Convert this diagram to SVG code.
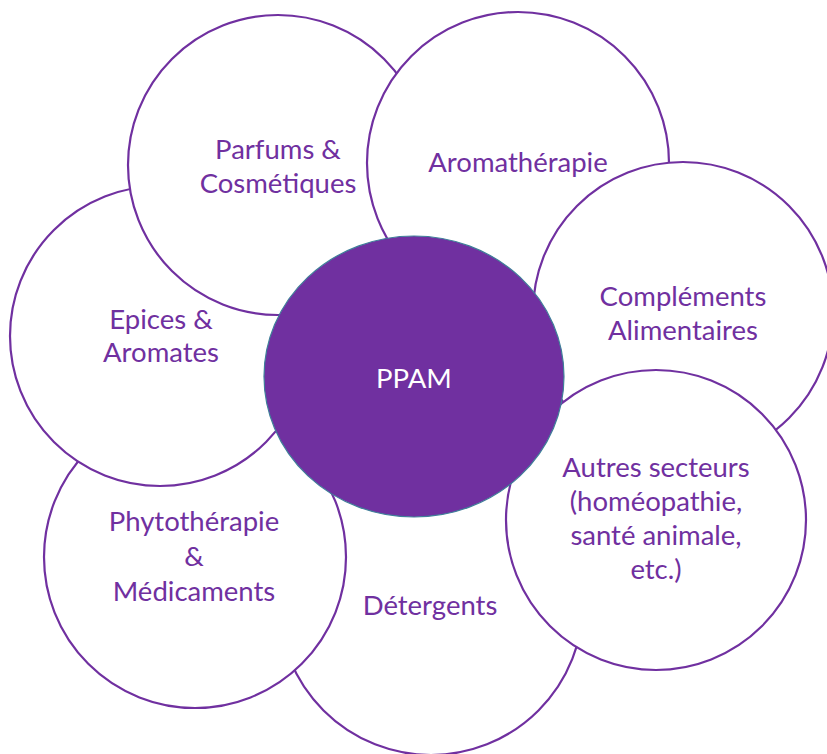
<svg xmlns="http://www.w3.org/2000/svg" width="827" height="754" viewBox="0 0 827 754">
<style>
.c{fill:#fff;stroke:#7030A0;stroke-width:2.2}
.t{font-family:Lato,"Open Sans",sans-serif;font-size:27.5px;fill:#7030A0;text-anchor:middle}
.w{font-family:Lato,"Open Sans",sans-serif;font-size:27.5px;fill:#fff;text-anchor:middle}
</style>
<rect width="827" height="754" fill="#fff"/>
<g id="detergents"><circle class="c" cx="431" cy="603" r="152"/><text class="t" x="430" y="615">Détergents</text></g>
<g id="phyto"><circle class="c" cx="195" cy="557" r="151"/><text class="t" x="194" y="531">Phytothérapie</text><text class="t" x="194" y="566">&amp;</text><text class="t" x="194" y="601">Médicaments</text></g>
<g id="epices"><circle class="c" cx="160" cy="336" r="150"/><text class="t" x="161" y="329">Epices &amp;</text><text class="t" x="161" y="362">Aromates</text></g>
<g id="parfums"><circle class="c" cx="278" cy="165" r="150"/><text class="t" x="278" y="159">Parfums &amp;</text><text class="t" x="278" y="193">Cosmétiques</text></g>
<g id="aromatherapie"><circle class="c" cx="518" cy="163" r="151"/><text class="t" x="518" y="172">Aromathérapie</text></g>
<g id="complements"><circle class="c" cx="683" cy="312" r="150"/><text class="t" x="683" y="306">Compléments</text><text class="t" x="683" y="340">Alimentaires</text></g>
<g id="autres"><circle class="c" cx="656" cy="520" r="150"/><text class="t" x="656" y="477">Autres secteurs</text><text class="t" x="656" y="511">(homéopathie,</text><text class="t" x="656" y="545">santé animale,</text><text class="t" x="656" y="579">etc.)</text></g>
<g id="ppam"><ellipse cx="414" cy="376.5" rx="150" ry="140.5" fill="#7030A0" stroke="#3F7F99" stroke-width="1.2"/><text class="w" x="414" y="388">PPAM</text></g>
<g id="connectors"/>
</svg>
